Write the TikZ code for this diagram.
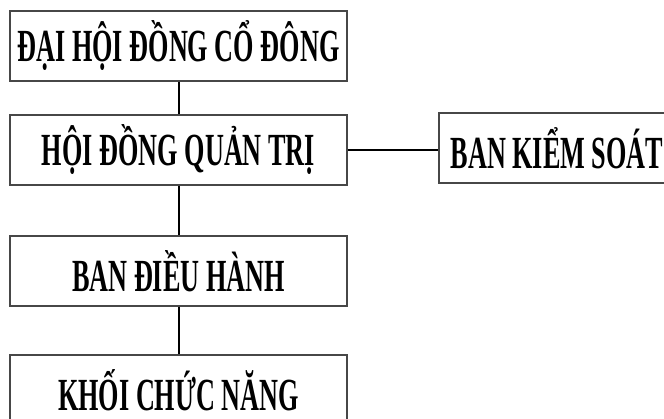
\documentclass[tikz,border=0pt]{standalone}
\usepackage{fontspec}
\newfontfamily\hopfont{Liberation Serif Bold}[FakeStretch=0.57]
\usepackage{tikz}
\usetikzlibrary{calc}
\usetikzlibrary{positioning}

\begin{document}
\begin{tikzpicture}[x=1pt,y=1pt,
	hop/.style={draw=black!72,line width=1.3pt,rectangle,minimum width=337pt,minimum height=70pt,inner sep=0pt,font=\hopfont\fontsize{46}{50}\selectfont},
	noi/.style={line width=2pt,black}]
		\useasboundingbox (0,0) rectangle (664,-418);
		\clip (0,0) rectangle (664,-418);
		\node[hop] (dhdcd) at (178.5,-46) {ĐẠI HỘI ĐỒNG CỔ ĐÔNG};
		\node[hop] (hdqt) at (178.5,-150) {HỘI ĐỒNG QUẢN TRỊ};
		\node[hop] (bdh) at (178.5,-271) {BAN ĐIỀU HÀNH};
		\node[hop,text depth=0pt] (kcn) at (178.5,-390) {KHỐI CHỨC NĂNG};
		\node[hop,minimum width=236pt] (bks) at (557,-148) {BAN KIỂM SOÁT};
		\draw[noi] (dhdcd.south)--(hdqt.north);
		\draw[noi] (hdqt.south)--(bdh.north);
		\draw[noi] (bdh.south)--(kcn.north);
		\draw[noi] (hdqt.east)--(hdqt.east -| bks.west);
	\end{tikzpicture}
\end{document}
